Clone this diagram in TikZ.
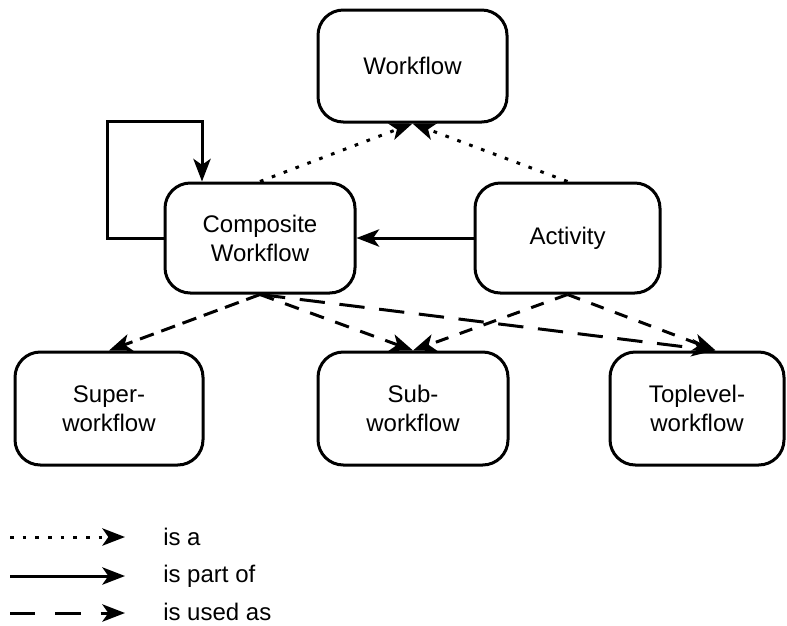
\documentclass[tikz,border=0pt]{standalone}
\usepackage{fontspec}
\setmainfont{Liberation Sans}
\usetikzlibrary{arrows.meta}
\begin{document}
\begin{tikzpicture}[x=0.75pt,y=-0.75pt,
  box/.style={draw, line width=2.25pt, rounded corners=19pt, align=center,
    font=\fontsize{18}{21.75}\selectfont, inner sep=0pt},
  rel/.style={line width=2.25pt, -{Stealth[length=17pt,width=13pt,inset=4.5pt]}},
  isa/.style={rel, dash pattern=on 2.75pt off 6.75pt},
  partof/.style={rel},
  usedas/.style={rel, dash pattern=on 11pt off 9pt},
  legendtext/.style={anchor=base west, inner sep=0pt, font=\fontsize{18}{21.75}\selectfont}
]
\useasboundingbox (0,0) rectangle (787,625);

% concepts
\node[box, minimum width=141.75pt, minimum height=84pt]  (wf)   at (412.5,66)  {Workflow};
\node[box, minimum width=142.5pt,  minimum height=82.5pt] (comp) at (260,238)   {Composite\\Workflow};
\node[box, minimum width=138.75pt, minimum height=82.5pt] (act)  at (567.5,238) {Activity};
\node[box, minimum width=141pt,    minimum height=84.75pt] (sup) at (109,408.5) {Super-\\workflow};
\node[box, minimum width=142.5pt,  minimum height=84.75pt] (sub) at (413,408.5) {Sub-\\workflow};
\node[box, minimum width=130.5pt,  minimum height=84.75pt] (top) at (697,408.5) {Toplevel-\\workflow};

% is a
\draw[isa] (comp.north) -- (wf.south);
\draw[isa] (act.north) -- (wf.south);

% is part of
\draw[partof] (act.west) -- (comp.east);
\draw[partof] (comp.west) -| ([xshift=-42pt,yshift=87.75pt]comp.west)
              -| ([xshift=-43.5pt]comp.north);

% is used as
\draw[usedas, dash pattern=on 11pt off 6pt] (comp.south) -- (sup.north);
\draw[usedas] (comp.south) -- (sub.north);
\draw[usedas, dash pattern=on 19pt off 11pt] (comp.south) -- ([xshift=13pt]top.north);
\draw[usedas, dash pattern=on 10pt off 9pt] (act.south) -- (sub.north);
\draw[usedas, dash pattern=on 10pt off 9pt] (act.south) -- ([xshift=14pt]top.north);

% legend
\coordinate (l1a) at (10,537);  \coordinate (l1b) at (125,537);
\coordinate (l2a) at (10,576);  \coordinate (l2b) at (125,576);
\coordinate (l3a) at (10,613);  \coordinate (l3b) at (125,613);
\draw[isa] (l1a) -- (l1b);
\draw[partof] (l2a) -- (l2b);
\draw[usedas, dash pattern=on 19pt off 15pt] (l3a) -- (l3b);
\node[legendtext] (t1) at (163,545) {is a};
\node[legendtext] (t2) at (163,582) {is part of};
\node[legendtext] (t3) at (163,620) {is used as};
\end{tikzpicture}
\end{document}
